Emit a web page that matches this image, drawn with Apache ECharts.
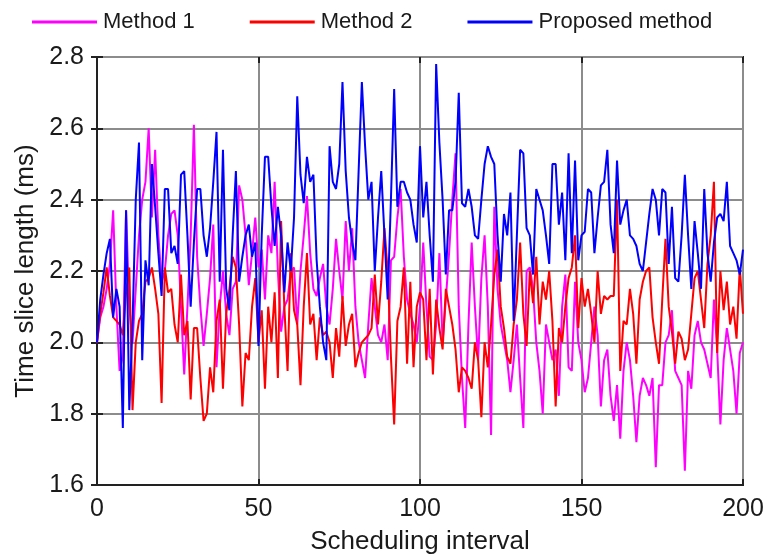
<!DOCTYPE html>
<html>
<head>
<meta charset="utf-8">
<script src="https://cdn.jsdelivr.net/npm/echarts@6/dist/echarts.min.js"></script>
<style>
  html, body { margin: 0; padding: 0; background: #fff; }
  #chart { width: 767px; height: 560px; }
</style>
</head>
<body>
<div id="chart"></div>
<script>
// Scheduling interval index (0..200)
const intervals = Array.from({ length: 201 }, (_, i) => i);

// Time slice length (ms) per scheduling interval
const method1 = [
  2.00, 2.07, 2.10, 2.15, 2.22, 2.37, 2.10, 1.92, 1.96, 2.37,
  2.10, 2.00, 2.15, 2.30, 2.40, 2.45, 2.60, 2.35, 2.54, 2.30,
  2.17, 2.20, 2.30, 2.36, 2.37, 2.30, 2.10, 1.91, 2.10, 2.30,
  2.61, 2.24, 2.10, 1.99, 2.08, 2.18, 2.33, 1.93, 2.10, 2.20,
  2.08, 2.02, 2.15, 2.17, 2.44, 2.40, 2.30, 2.16, 2.25, 2.35,
  2.21, 2.26, 2.12, 2.30, 2.25, 2.45, 2.20, 2.03, 2.10, 2.12,
  2.20, 2.21, 2.05, 2.20, 2.30, 2.41, 2.25, 2.15, 2.13, 2.18,
  2.22, 2.10, 2.05, 2.15, 2.29, 2.20, 2.12, 2.34, 2.20, 2.32,
  2.10, 2.00, 1.95, 1.90, 2.05, 2.18, 2.10, 2.02, 2.00, 2.05,
  1.95, 2.23, 2.24, 2.35, 2.43, 2.24, 2.12, 2.08, 2.05, 2.00,
  2.10, 2.28, 2.10, 1.96, 1.95, 2.05, 2.25, 2.00, 2.12, 2.25,
  2.40, 2.53, 2.10, 1.90, 1.76, 2.05, 2.28, 2.10, 1.95, 2.18,
  2.30, 2.10, 1.74, 2.38, 2.15, 2.05, 2.00, 1.95, 1.86, 1.95,
  2.05, 1.90, 1.76, 2.20, 2.21, 2.15, 2.00, 1.92, 1.80, 2.05,
  2.00, 1.95, 1.98, 1.85, 2.10, 2.19, 1.93, 1.92, 2.17, 2.00,
  1.95, 1.86, 1.90, 2.00, 2.10, 2.02, 1.82, 1.95, 1.98, 1.85,
  1.78, 1.88, 1.73, 1.92, 2.00, 1.95, 1.85, 1.72, 1.85, 1.90,
  1.88, 1.85, 1.90, 1.65, 1.88, 1.88, 2.00, 2.02, 2.09, 1.92,
  1.90, 1.88, 1.64, 1.92, 1.87, 2.02, 2.06, 2.00, 1.98, 1.94,
  1.90, 2.12, 1.98, 1.77, 1.95, 2.04, 1.98, 1.92, 1.80, 1.97,
  2.00
];

const method2 = [
  2.00, 2.08, 2.14, 2.21, 2.13, 2.07, 2.06, 2.05, 2.02, 2.14,
  2.21, 1.81, 2.00, 2.06, 2.08, 2.17, 2.18, 2.21, 2.15, 2.08,
  1.83, 2.21, 2.14, 2.15, 2.05, 2.00, 2.19, 2.02, 2.06, 1.84,
  2.04, 2.04, 1.90, 1.78, 1.80, 1.93, 1.86, 2.06, 2.12, 1.87,
  2.08, 2.15, 2.24, 2.21, 2.05, 1.82, 1.97, 1.95, 2.10, 2.18,
  2.00, 2.09, 1.87, 2.10, 2.00, 2.14, 1.90, 2.34, 2.10, 1.92,
  2.25, 2.09, 2.05, 1.88, 2.10, 2.25, 2.05, 2.08, 1.95, 2.07,
  2.02, 2.03, 2.00, 1.90, 2.04, 1.96, 2.13, 1.99, 2.05, 2.08,
  1.93, 1.97, 2.00, 2.01, 2.02, 2.04, 2.19, 2.05, 2.17, 2.32,
  2.20, 1.96, 1.77, 2.06, 2.10, 2.21, 1.94, 2.17, 1.93, 2.10,
  2.14, 2.12, 1.95, 2.15, 1.91, 2.12, 2.04, 1.98, 2.15, 2.10,
  2.05, 1.98, 1.86, 1.93, 1.92, 1.90, 1.87, 2.00, 1.95, 1.79,
  2.00, 1.93, 2.05, 2.19, 2.26, 2.10, 2.04, 1.96, 1.94, 2.05,
  2.12, 2.28, 2.08, 1.99, 2.20, 2.11, 2.24, 2.05, 2.17, 2.12,
  2.20, 2.06, 1.82, 2.04, 2.00, 2.10, 2.18, 2.21, 2.30, 2.04,
  2.18, 2.10, 2.15, 2.08, 2.00, 2.20, 2.08, 2.13, 2.12, 2.13,
  2.13, 2.40, 1.92, 2.06, 2.05, 2.15, 2.08, 1.94, 2.12, 2.17,
  2.20, 2.21, 2.07, 2.00, 1.94, 2.12, 2.29, 2.10, 2.03, 1.94,
  2.03, 2.01, 1.95, 1.98, 2.08, 2.18, 2.20, 2.12, 2.04, 2.22,
  2.30, 2.45, 1.97, 2.20, 2.09, 2.17, 2.05, 2.10, 2.01, 2.21,
  2.08
];

const proposed = [
  2.00, 2.12, 2.19, 2.25, 2.29, 2.07, 2.15, 2.10, 1.76, 2.37,
  1.81, 2.05, 2.40, 2.56, 1.95, 2.23, 2.16, 2.50, 2.38, 2.25,
  2.13, 2.43, 2.43, 2.25, 2.27, 2.22, 2.47, 2.48, 2.30, 2.10,
  2.28, 2.43, 2.43, 2.30, 2.24, 2.32, 2.45, 2.59, 2.17, 2.54,
  2.15, 2.09, 2.30, 2.48, 2.17, 2.24, 2.30, 2.33, 2.24, 2.28,
  1.99, 2.30, 2.52, 2.52, 2.38, 2.27, 2.38, 2.30, 2.14, 2.28,
  2.20, 2.35, 2.69, 2.47, 2.39, 2.52, 2.45, 2.47, 2.23, 2.10,
  2.00, 1.95, 2.55, 2.45, 2.43, 2.50, 2.73, 2.48, 2.35, 2.28,
  2.23, 2.48, 2.73, 2.55, 2.40, 2.45, 2.20, 2.35, 2.48, 2.30,
  2.12, 2.40, 2.71, 2.38, 2.45, 2.45, 2.42, 2.40, 2.33, 2.28,
  2.55, 2.35, 2.45, 2.30, 2.17, 2.78, 2.56, 2.40, 2.19, 2.37,
  2.37, 2.45, 2.70, 2.39, 2.38, 2.43, 2.38, 2.30, 2.29, 2.40,
  2.50, 2.55, 2.52, 2.50, 2.30, 2.17, 2.36, 2.30, 2.42, 2.06,
  2.30, 2.54, 2.53, 2.32, 2.30, 2.19, 2.43, 2.40, 2.37, 2.30,
  2.22, 2.50, 2.50, 2.33, 2.42, 2.23, 2.53, 2.25, 2.51, 2.23,
  2.30, 2.31, 2.43, 2.42, 2.25, 2.35, 2.44, 2.45, 2.54, 2.33,
  2.25, 2.51, 2.33, 2.37, 2.40, 2.30, 2.29, 2.27, 2.22, 2.20,
  2.28, 2.36, 2.43, 2.40, 2.30, 2.43, 2.42, 2.22, 2.38, 2.18,
  2.17, 2.30, 2.47, 2.30, 2.15, 2.34, 2.25, 2.15, 2.43, 2.25,
  2.17, 2.28, 2.35, 2.36, 2.34, 2.45, 2.27, 2.25, 2.23, 2.19,
  2.26
];

const seriesNames = ['Method 1', 'Method 2', 'Proposed method'];
const seriesColors = ['#ff00ff', '#ff0000', '#0000ff'];
const xTicks = [0, 50, 100, 150, 200];
const yTicks = [1.6, 1.8, 2.0, 2.2, 2.4, 2.6, 2.8];

const FONT = '"Liberation Sans", Arial, sans-serif';
const TEXT = '#1a1a1a';

const toPairs = arr => intervals.map(i => [i, arr[i]]);

const frameTick = { show: true, inside: true, length: 6, lineStyle: { color: '#222', width: 2 } };

const chart = echarts.init(document.getElementById('chart'), null, { renderer: 'canvas' });

chart.setOption({
  animation: false,
  backgroundColor: '#ffffff',
  legend: {
    data: seriesNames,
    left: 27,
    top: 6,
    icon: 'rect',
    itemWidth: 65,
    itemHeight: 3,
    itemGap: 55,
    textStyle: { fontFamily: FONT, fontSize: 22, color: TEXT, padding: [0, 0, 0, 1] }
  },
  grid: {
    left: 97, right: 24, top: 57, bottom: 69,
    show: true, borderColor: '#222', borderWidth: 2, backgroundColor: 'transparent'
  },
  xAxis: [{
    type: 'value',
    min: xTicks[0], max: xTicks[xTicks.length - 1], interval: 50,
    name: 'Scheduling interval',
    nameLocation: 'middle', nameGap: 44,
    nameTextStyle: { fontFamily: FONT, fontSize: 26, color: TEXT },
    axisLine: { show: true, onZero: false, lineStyle: { color: '#222', width: 2 } },
    axisTick: frameTick,
    axisLabel: { fontFamily: FONT, fontSize: 25, color: TEXT, margin: 12 },
    splitLine: { show: true, lineStyle: { color: '#8c8c8c', width: 2 } }
  }, {
    type: 'value', position: 'top',
    min: xTicks[0], max: xTicks[xTicks.length - 1], interval: 50,
    axisLine: { show: false }, axisTick: frameTick,
    axisLabel: { show: false }, splitLine: { show: false }
  }],
  yAxis: [{
    type: 'value',
    min: yTicks[0], max: yTicks[yTicks.length - 1], interval: 0.2,
    name: 'Time slice length (ms)',
    nameLocation: 'middle', nameGap: 57,
    nameTextStyle: { fontFamily: FONT, fontSize: 26, color: TEXT },
    axisLine: { show: true, onZero: false, lineStyle: { color: '#222', width: 2 } },
    axisTick: frameTick,
    axisLabel: { fontFamily: FONT, fontSize: 25, color: TEXT, margin: 13, formatter: v => v.toFixed(1) },
    splitLine: { show: true, lineStyle: { color: '#8c8c8c', width: 2 } }
  }, {
    type: 'value', position: 'right',
    min: yTicks[0], max: yTicks[yTicks.length - 1], interval: 0.2,
    axisLine: { show: false }, axisTick: frameTick,
    axisLabel: { show: false }, splitLine: { show: false }
  }],
  series: [method1, method2, proposed].map((arr, k) => ({
    name: seriesNames[k],
    type: 'line',
    data: toPairs(arr),
    showSymbol: false,
    symbol: 'none',
    lineStyle: { color: seriesColors[k], width: 2 },
    itemStyle: { color: seriesColors[k] },
    z: 2 + k
  }))
});
</script>
</body>
</html>
